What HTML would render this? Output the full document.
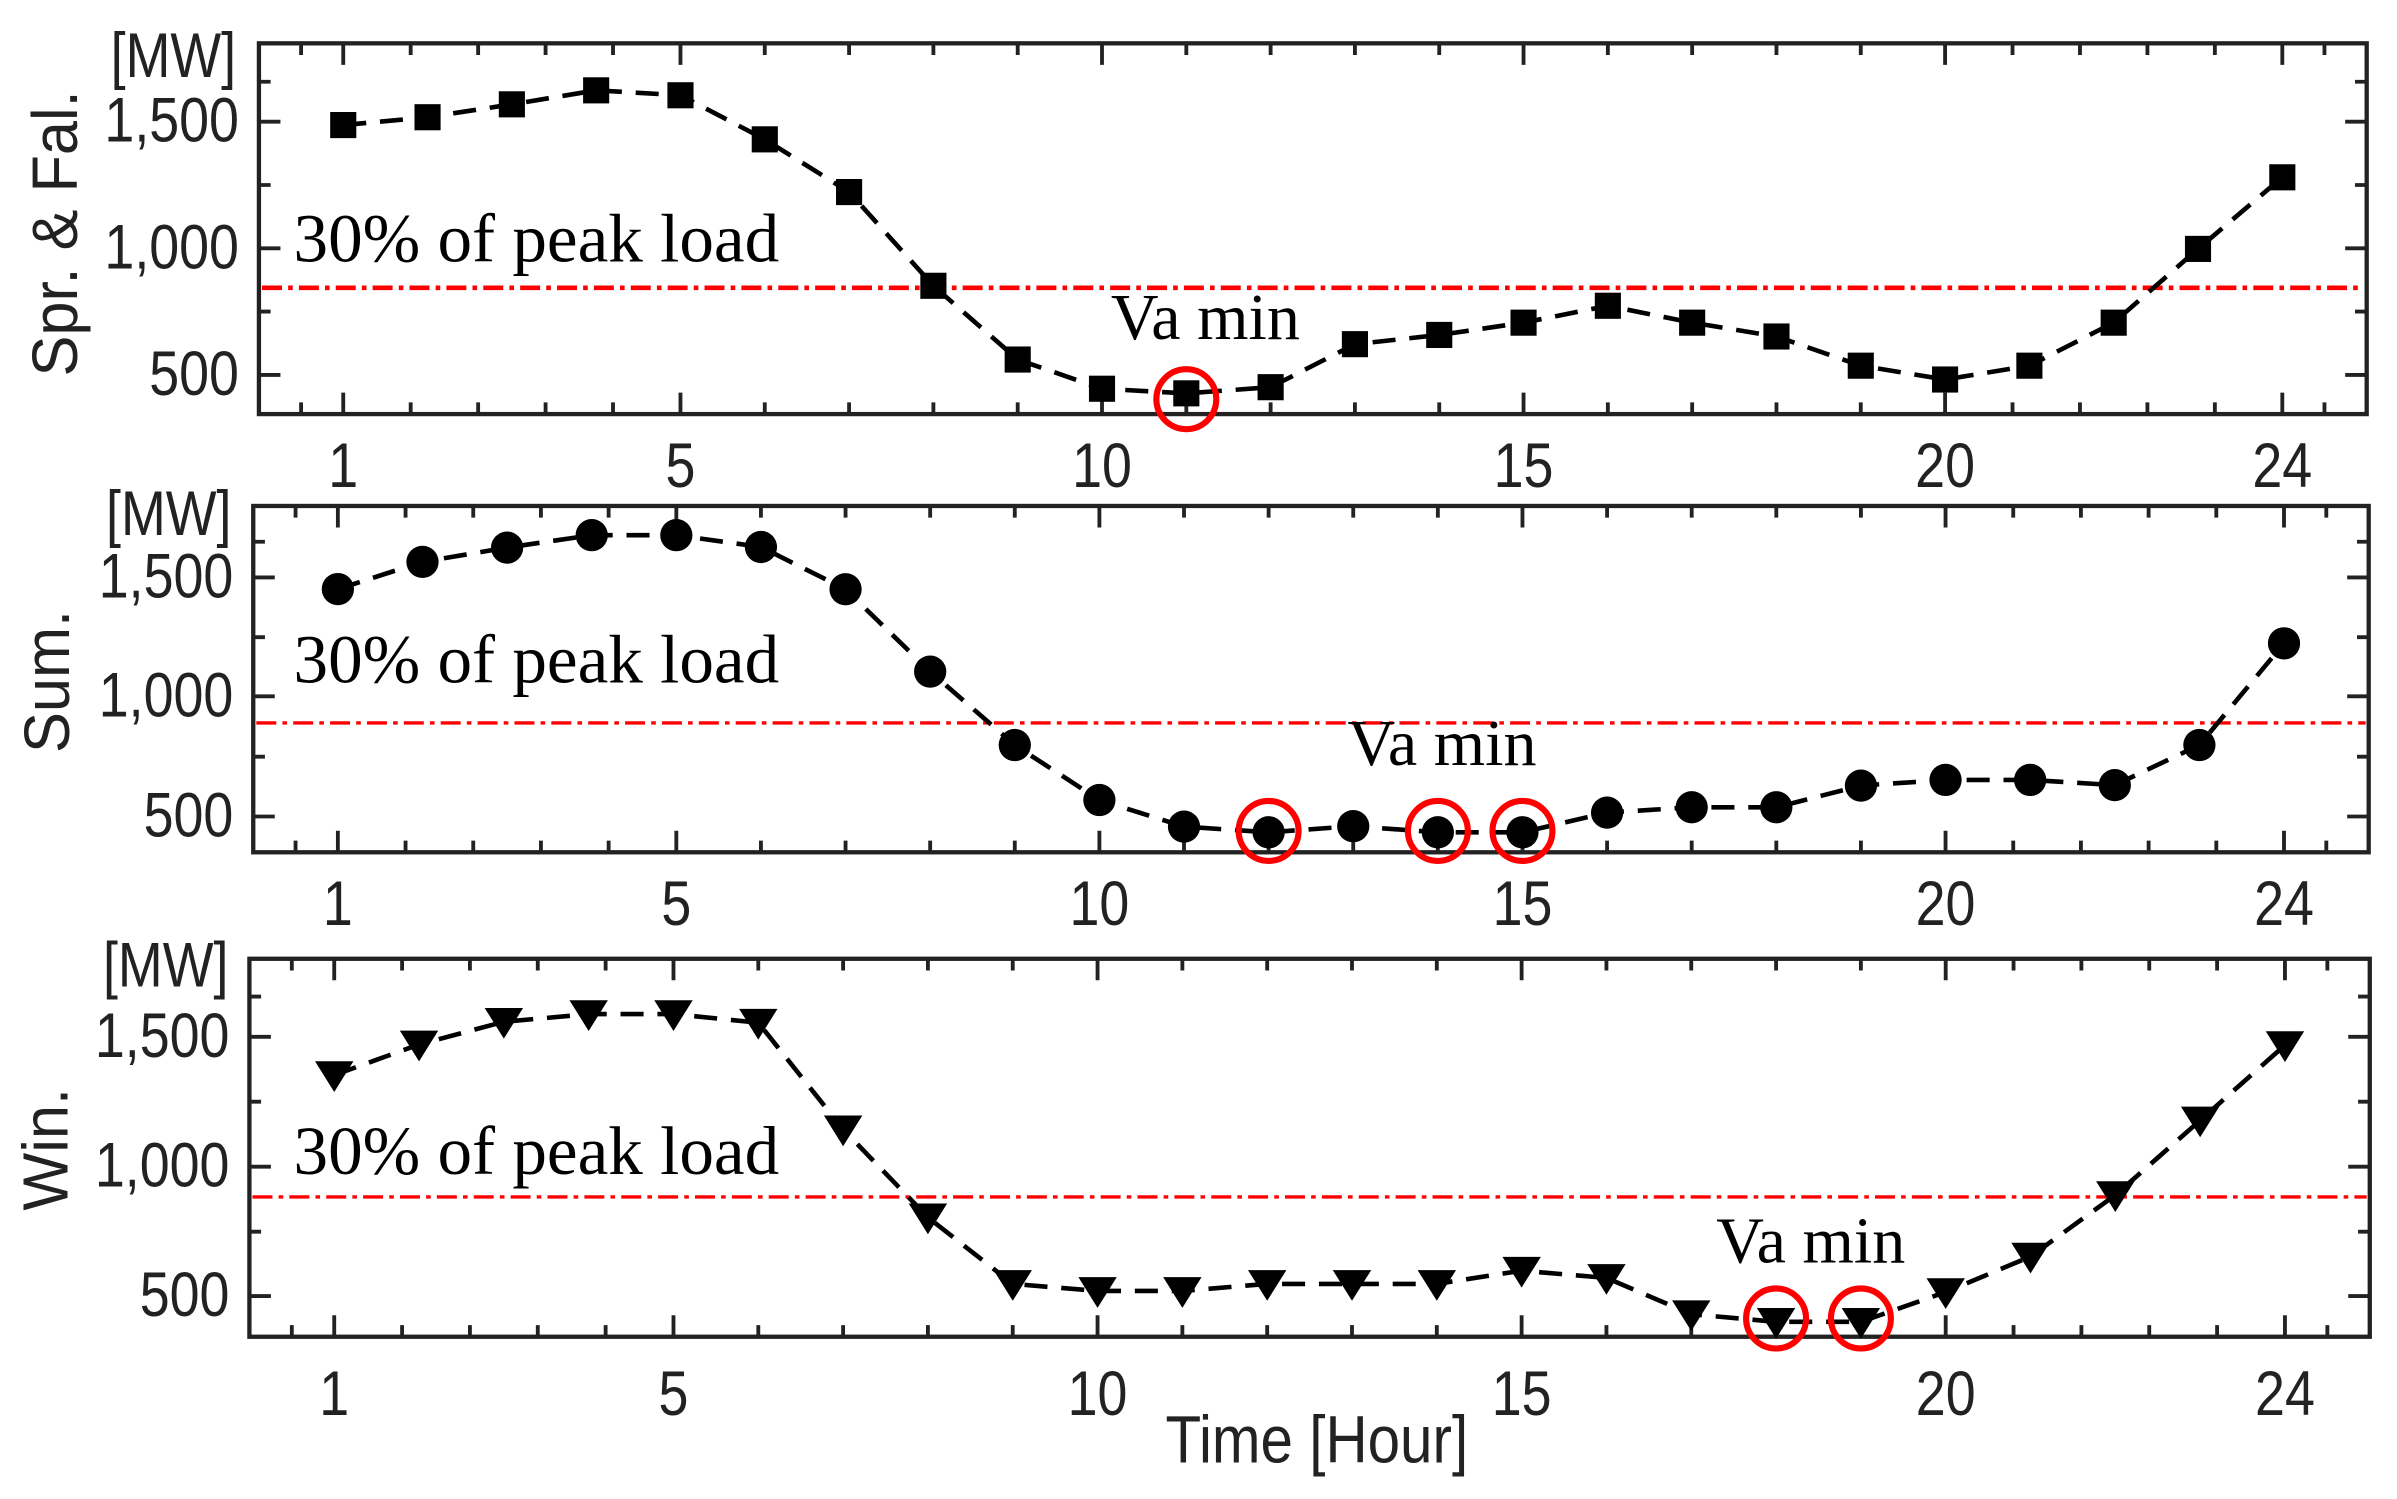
<!DOCTYPE html>
<html><head><meta charset="utf-8"><style>html,body{margin:0;padding:0;background:#fff}svg{display:block}</style></head>
<body>
<svg width="2397" height="1499" viewBox="0 0 1560 975.6" xmlns="http://www.w3.org/2000/svg" font-family="'Liberation Sans', sans-serif">
<rect width="1560" height="975.6" fill="#fff"/>
<g id="all"></g>
<script>
(function(){
var NS="http://www.w3.org/2000/svg",root=document.getElementById("all");
function el(t,a,txt){var e=document.createElementNS(NS,t);for(var k in a)e.setAttribute(k,a[k]);if(txt!==undefined)e.textContent=txt;root.appendChild(e);return e;}
function st(x,y,txt,a,sy){a=a||{};a.x=0;a.y=0;a.transform="translate("+x+","+y+") scale(1,"+(sy||1.18)+")";return el("text",a,txt);}
var panels=[
 {x0:168.5,dx:54.87,top:28.2,bot:269.5,right:1540.3,yt:[79.2,161.6,244],ym:[53.2,120.4,202.8],red:187.3,rw:3,
  lab:"Spr. & Fal.",labY:151.9,labX:37,mw:[72,50],xlb:317,pk:170.3,va:[723,220.7],
  ys:[81.4,76.3,67.9,58.8,62,90.7,125,186,234,253,256,252,224,218,210,199,210,219,238,247,238,210,162,115.4],m:"sq",circ:[11],cy:259.8},
 {x0:164.8,dx:55.07,top:329.3,bot:554.7,right:1541.6,yt:[375.8,453.2,531.4],ym:[352.6,414.7,492.5],red:470.5,rw:2.2,
  lab:"Sum.",labY:443.5,labX:32,mw:[69,348.3],xlb:602,pk:444.3,va:[877,497.9],
  ys:[383.4,365.7,356.4,348.3,348.3,356,383.5,437.1,484.9,520.7,538,541.7,537.7,541.7,541.7,528.9,525.4,525.4,511.3,507.6,507.6,511,484.9,418.7],m:"ci",circ:[12,14,15],cy:540.8},
 {x0:162.3,dx:55.2,top:624,bot:870,right:1542.3,yt:[674.8,759.3,843.5],ym:[648.6,717,801.6],red:779,rw:2.2,
  lab:"Win.",labY:748,labX:31,mw:[67,642],xlb:921,pk:764,va:[1117,821.8],
  ys:[691.7,671.8,657,652,652,657.6,727,784.3,827.6,832.2,832.2,827.6,827.6,827.6,819,823.7,847.3,852.3,852.3,832.9,809.8,769.8,721.2,672.2],m:"tri",circ:[18,19],cy:858.1}
];
var xt=[0.5,1,1.8,2.6,3.4,4.2,5,6,7,8,9,10,11,12,13,14,15,16,17,18,19,20,20.8,21.6,22.4,23.2,24,24.5];
var maj={1:1,5:1,10:1,15:1,20:1,24:1};
panels.forEach(function(p){
 var X=function(h){return p.x0+h*p.dx;};
 el("line",{x1:p.x0+2,x2:p.right-2,y1:p.red,y2:p.red,stroke:"#ff0000","stroke-width":p.rw,"stroke-dasharray":"13 4 3 4"});
 var d="";
 xt.forEach(function(h){var L=maj[h]?14:7.6;var x=X(h);d+="M"+x+" "+p.bot+"v"+(-L)+"M"+x+" "+p.top+"v"+L;});
 p.yt.forEach(function(y){d+="M"+p.x0+" "+y+"h14";});
 p.ym.forEach(function(y){d+="M"+p.x0+" "+y+"h7.6";});
 p.yt.forEach(function(y){d+="M"+p.right+" "+y+"h-14";});
 p.ym.forEach(function(y){d+="M"+p.right+" "+y+"h-7.6";});
 el("path",{d:d,stroke:"#222","stroke-width":2.5,fill:"none"});
 el("rect",{x:p.x0,y:p.top,width:p.right-p.x0,height:p.bot-p.top,fill:"none",stroke:"#222","stroke-width":2.8});
 ["1,500","1,000","500"].forEach(function(t,i){st(p.x0-13,p.yt[i]+13,t,{"font-size":35,"text-anchor":"end",fill:"#222"});});
 [1,5,10,15,20,24].forEach(function(h){st(X(h),p.xlb,String(h),{"font-size":35,"text-anchor":"middle",fill:"#222"});});
 st(p.mw[0],p.mw[1],"[MW]",{"font-size":35,fill:"#222"});
 el("text",{x:0,y:0,"font-size":38,"text-anchor":"middle",fill:"#222",transform:"translate("+(p.labX+13)+","+p.labY+") rotate(-90) scale(1.05,1.1)"},p.lab);
 el("text",{x:191,y:p.pk,"font-size":45,"font-family":"'Liberation Serif', serif",fill:"#000"},"30% of peak load");
 el("text",{x:p.va[0],y:p.va[1],"font-size":43,"font-family":"'Liberation Serif', serif",fill:"#000"},"Va min");
 var pts=p.ys.map(function(y,i){var yy=p.m=="tri"?y+8:y;return X(i+1)+","+yy;});
 el("polyline",{points:pts.join(" "),fill:"none",stroke:"#000","stroke-width":3,"stroke-dasharray":"15 9"});
 p.ys.forEach(function(y,i){var x=X(i+1);
  if(p.m=="sq")el("rect",{x:x-8.5,y:y-8.5,width:17,height:17,fill:"#000"});
  else if(p.m=="ci")el("circle",{cx:x,cy:y,r:10.5,fill:"#000"});
  else el("polygon",{points:(x-12.5)+","+(y-1)+" "+(x+12.5)+","+(y-1)+" "+x+","+(y+19),fill:"#000"});
 });
 p.circ.forEach(function(h){el("circle",{cx:X(h),cy:p.cy,r:19.5,fill:"none",stroke:"#ff0000","stroke-width":4});});
});
st(857,952,"Time [Hour]",{"font-size":38,"text-anchor":"middle",fill:"#222"},1.15);
})();
</script>
</svg>
</body></html>
